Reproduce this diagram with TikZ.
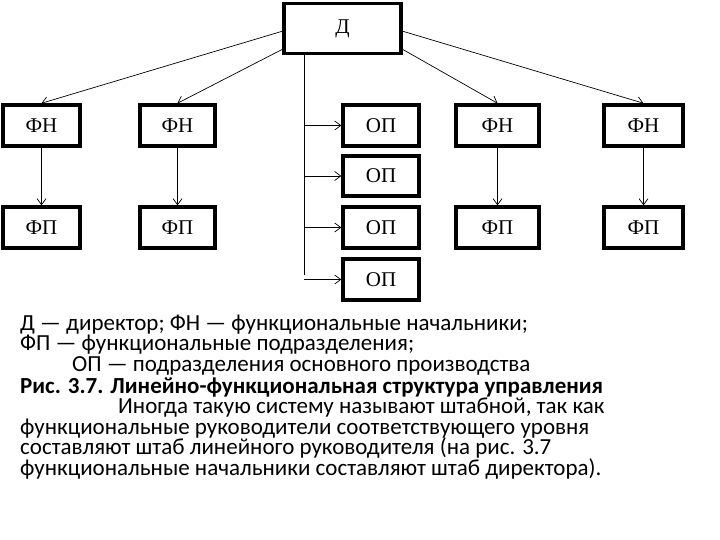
\documentclass[tikz,border=0pt]{standalone}
\usepackage{fontspec}
\setmainfont{Carlito}
\newfontfamily\boxfont{Liberation Serif}
\usetikzlibrary{arrows.meta}
\begin{document}
\begin{tikzpicture}[x=1pt,y=-1pt,
 bx/.style={draw,line width=3.5pt,inner sep=0pt,font=\boxfont\fontsize{21}{21}\selectfont},
 ln/.style={line width=0.7pt,-{Straight Barb[length=6pt,width=9pt]}},
 tx/.style={anchor=base west,inner sep=0pt,text height=14pt,text depth=4pt,font=\fontsize{23}{20}\selectfont}]
\useasboundingbox (0,0) rectangle (720,540);
\node[bx,minimum width=117,minimum height=50] (d) at (342.5,28.5) {Д};
\node[bx,minimum width=77,minimum height=41] (fn1) at (41.5,125.5) {ФН};
\node[bx,minimum width=75,minimum height=41] (fn2) at (177.5,125.5) {ФН};
\node[bx,minimum width=83,minimum height=41] (fn3) at (497.5,125.5) {ФН};
\node[bx,minimum width=79,minimum height=41] (fn4) at (643.5,125.5) {ФН};
\node[bx,minimum width=77,minimum height=41] (fp1) at (41.5,227.5) {ФП};
\node[bx,minimum width=75,minimum height=41] (fp2) at (177.5,227.5) {ФП};
\node[bx,minimum width=83,minimum height=41] (fp3) at (497.5,227.5) {ФП};
\node[bx,minimum width=79,minimum height=41] (fp4) at (643.5,227.5) {ФП};
\node[bx,minimum width=76,minimum height=41] (op1) at (381,125.5) {ОП};
\node[bx,minimum width=76,minimum height=40] (op2) at (381,176) {ОП};
\node[bx,minimum width=76,minimum height=41] (op3) at (381,227.5) {ОП};
\node[bx,minimum width=76,minimum height=41] (op4) at (381,279.5) {ОП};
\coordinate (dl1) at (283,31); \coordinate (dl2) at (283,49);
\coordinate (dr1) at (402,31); \coordinate (dr2) at (402,49);
\draw[ln] (dl1) -- (fn1.north);
\draw[ln] (dl2) -- (fn2.north);
\draw[ln] (dr2) -- (fn3.north);
\draw[ln] (dr1) -- (fn4.north);
\foreach \i in {1,...,4}{\draw[ln] (fn\i.south) -- (fp\i.north);}
\coordinate (v0) at (304,55);
\draw[line width=0.7pt] (v0) -- (304,275);
\foreach \i in {1,...,4}{\draw[ln] (op\i.west -| v0) -- (op\i.west);}
\node[tx] (t1) at (20,330) {Д — директор; ФН — функциональные начальники;};
\node[tx] (t2) at (20,350) {ФП — функциональные подразделения;};
\node[tx] (t3) at (72,371) {ОП — подразделения основного производства};
\node[tx,font=\bfseries\fontsize{23}{20}\selectfont] (t4) at (20,393) {Рис. 3.7. Линейно-функциональная структура управления};
\node[tx] (t5) at (118,413) {Иногда такую систему называют штабной, так как};
\node[tx] (t6) at (20,434) {функциональные руководители соответствующего уровня};
\node[tx] (t7) at (20,454) {составляют штаб линейного руководителя (на рис. 3.7};
\node[tx] (t8) at (20,475) {функциональные начальники составляют штаб директора).};
\end{tikzpicture}
\end{document}
